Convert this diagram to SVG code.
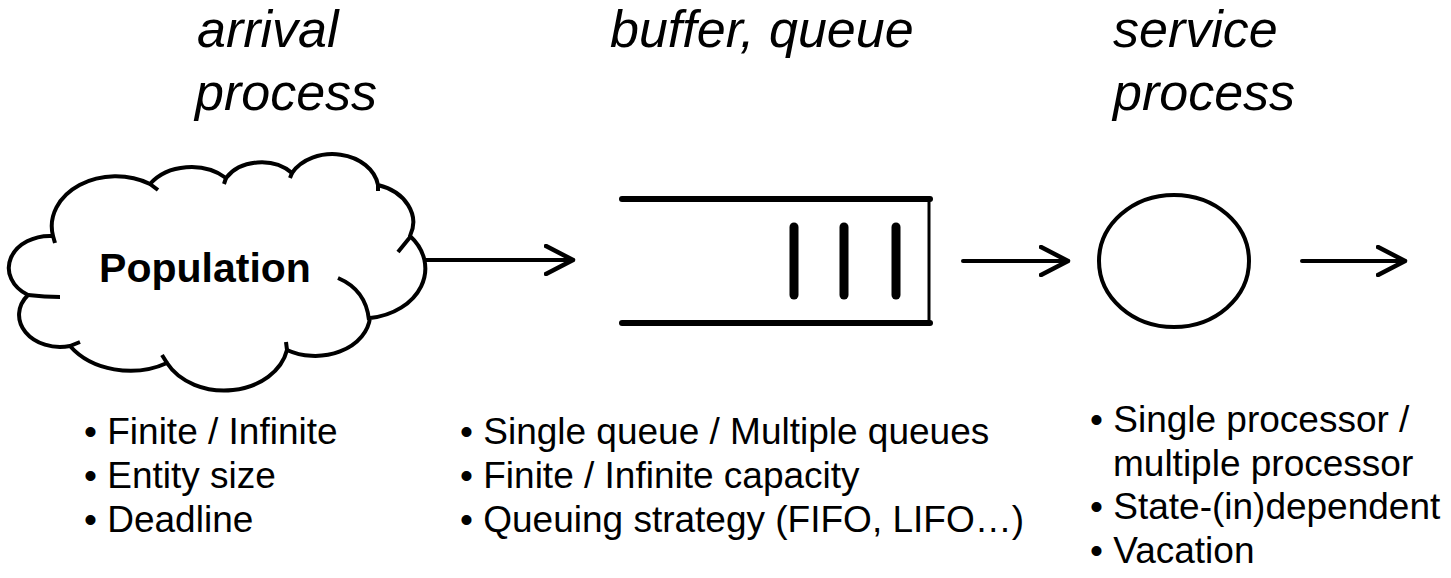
<svg xmlns="http://www.w3.org/2000/svg" width="1451" height="578" viewBox="0 0 1451 578">
<style>
.hdr{font-family:"Liberation Sans",Arial,sans-serif;font-style:italic;font-size:52px;fill:#000}
.bul{font-family:"Liberation Sans",Arial,sans-serif;font-size:37px;fill:#000}
.pop{font-family:"Liberation Sans",Arial,sans-serif;font-weight:bold;font-size:41px;fill:#000}
.ln{stroke:#000;fill:none;stroke-width:4;stroke-linecap:round;stroke-linejoin:round}
</style>
<defs>
<marker id="arr" viewBox="0 0 32 32" markerWidth="32" markerHeight="32" refX="29" refY="16" markerUnits="userSpaceOnUse" orient="auto">
<path d="M 2 2 L 29 16 L 2 30" fill="none" stroke="#000" stroke-width="4.5" stroke-linecap="round" stroke-linejoin="round"/>
</marker>
</defs>
<rect width="1451" height="578" fill="#fff"/>
<g id="headers">
<text class="hdr" x="197" y="47">arrival</text>
<text class="hdr" x="195" y="110">process</text>
<text class="hdr" x="610" y="47">buffer, queue</text>
<text class="hdr" x="1113" y="47">service</text>
<text class="hdr" x="1113" y="110">process</text>
</g>
<g id="population">
<path class="ln" fill="#fff" style="fill:#fff" d="M 53 236 A 64 50 0 0 1 150 184 A 50 39 0 0 1 226 178 A 41 32 0 0 1 292 173 A 46 36 0 0 1 378 185 A 50 39 0 0 1 410 236 A 64 50 0 0 1 370 318 A 55 42 0 0 1 287 350 A 64 50 0 0 1 167 363 A 73 57 0 0 1 70 346 A 41 32 0 0 1 28 295 A 41 32 0 0 1 53 236 Z"/>
<path class="ln" style="stroke-linecap:butt" d="M 28 295 Q 45 297 60 297 M 70 346 L 80 342 M 167 363 L 162 355 M 287 350 L 286 342 M 338 278 Q 366 290 369 320 M 411 236 L 398 252 M 378 185 L 378 191 M 292 173 L 290 178 M 226 178 L 224 184 M 150 184 L 158 190 M 53 236 L 55 243"/>
<text class="pop" x="205" y="282" text-anchor="middle">Population</text>
</g>
<g id="queue">
<line x1="622" y1="199" x2="930" y2="199" stroke="#000" stroke-width="6" stroke-linecap="round"/>
<line x1="622" y1="323" x2="930" y2="323" stroke="#000" stroke-width="6" stroke-linecap="round"/>
<line x1="929" y1="199" x2="929" y2="323" stroke="#000" stroke-width="3"/>
<line x1="794" y1="227" x2="794" y2="295" stroke="#000" stroke-width="9" stroke-linecap="round"/>
<line x1="844" y1="227" x2="844" y2="295" stroke="#000" stroke-width="9" stroke-linecap="round"/>
<line x1="896" y1="227" x2="896" y2="295" stroke="#000" stroke-width="9" stroke-linecap="round"/>
</g>
<g id="server">
<ellipse cx="1174" cy="261" rx="75" ry="66" fill="none" stroke="#000" stroke-width="4"/>
</g>
<g id="connectors">
<line class="ln" x1="425" y1="260" x2="573" y2="260" marker-end="url(#arr)"/>
<line class="ln" x1="963" y1="261" x2="1068" y2="261" marker-end="url(#arr)"/>
<line class="ln" x1="1302" y1="261" x2="1405" y2="261" marker-end="url(#arr)"/>
</g>
<g id="arrival-notes">
<text class="bul" x="84" y="444">• Finite / Infinite</text>
<text class="bul" x="84" y="488">• Entity size</text>
<text class="bul" x="84" y="532">• Deadline</text>
</g>
<g id="queue-notes">
<text class="bul" x="460" y="444">• Single queue / Multiple queues</text>
<text class="bul" x="460" y="488">• Finite / Infinite capacity</text>
<text class="bul" x="460" y="532">• Queuing strategy (FIFO, LIFO…)</text>
</g>
<g id="service-notes">
<text class="bul" x="1090" y="432">• Single processor /</text>
<text class="bul" x="1113" y="476">multiple processor</text>
<text class="bul" x="1090" y="519">• State-(in)dependent</text>
<text class="bul" x="1090" y="563">• Vacation</text>
</g>
</svg>
